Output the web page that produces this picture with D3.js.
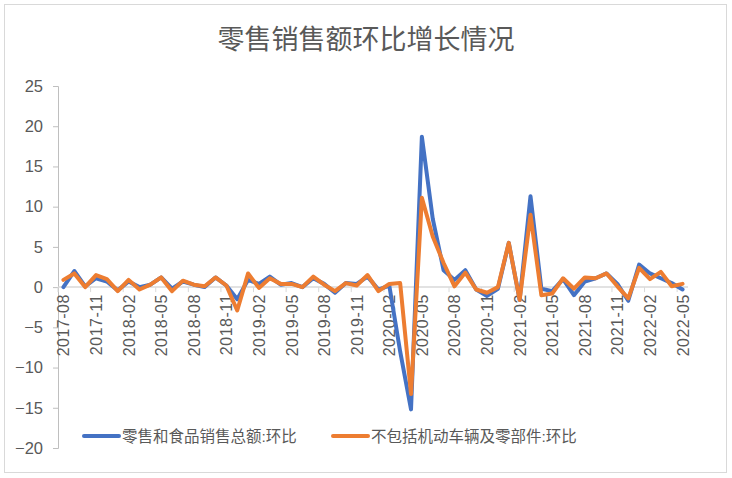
<!DOCTYPE html>
<html>
<head>
    <meta charset="utf-8">
    <title>零售销售额环比增长情况</title>
    <script src="https://d3js.org/d3.v7.min.js"></script>
    <style>
        body { margin: 0; background: #fff; }
        text { font-family: "Liberation Sans", "Noto Sans CJK SC", sans-serif; fill: #595959; }
        .line { fill: none; stroke-width: 4; stroke-linejoin: round; stroke-linecap: round; }
    </style>
</head>
<body>
    <div id="chart"></div>
    <script>
        // Months 2017-08 .. 2022-05
        const months = [];
        for (let y = 2017, m = 8; y < 2022 || (y === 2022 && m <= 5); m++) {
            if (m > 12) { m = 1; y++; }
            months.push(`${y}-${String(m).padStart(2, "0")}`);
        }

        const seriesNames = ["零售和食品销售总额:环比", "不包括机动车辆及零部件:环比"];
        const colors = ["#4472C4", "#ED7D31"];

        const totalMoM = [
            0.0, 2.0, 0.1, 1.1, 0.7, -0.4, 0.7, 0.0, 0.3, 1.2, -0.2, 0.7,
            0.3, 0.0, 1.2, 0.2, -1.5, 0.9, 0.4, 1.3, 0.3, 0.5, 0.0, 1.1,
            0.4, -0.7, 0.5, 0.4, 1.3, -0.3, 0.2, -8.0, -15.2, 18.7, 8.5, 2.1,
            0.9, 2.1, -0.3, -1.1, -0.2, 5.5, -1.6, 11.3, -0.2, -0.5, 1.0, -1.0,
            0.7, 1.1, 1.7, 0.4, -1.7, 2.8, 1.7, 1.1, 0.5, -0.3
        ];
        const exAutoMoM = [
            0.9, 1.7, 0.0, 1.5, 1.0, -0.5, 0.9, -0.3, 0.3, 1.2, -0.5, 0.8,
            0.3, 0.1, 1.2, 0.2, -2.9, 1.7, -0.1, 1.1, 0.4, 0.4, 0.0, 1.3,
            0.3, -0.5, 0.5, 0.2, 1.5, -0.5, 0.4, 0.5, -13.3, 11.1, 6.3, 3.0,
            0.1, 1.8, -0.3, -0.7, 0.0, 5.5, -1.6, 9.0, -1.0, -0.8, 1.1, -0.2,
            1.2, 1.1, 1.7, 0.1, -1.4, 2.4, 1.0, 1.9, 0.1, 0.4
        ];
        const yTicks = [-20, -15, -10, -5, 0, 5, 10, 15, 20, 25];

        const W = 732, H = 478;
        const plot = {left: 58, right: 688, top: 86, bottom: 448};

        const svg = d3.select("#chart").append("svg")
            .attr("width", W).attr("height", H);

        // chart border
        svg.append("rect")
            .attr("x", 4.5).attr("y", 4.5)
            .attr("width", 722).attr("height", 468)
            .attr("fill", "#fff").attr("stroke", "#d9d9d9");

        svg.append("text")
            .attr("x", 366).attr("y", 49)
            .attr("text-anchor", "middle")
            .style("font-size", "27px")
            .text("零售销售额环比增长情况");

        const x = d3.scaleBand().domain(months).range([plot.left, plot.right]);
        const y = d3.scaleLinear().domain([-20, 25]).range([plot.bottom, plot.top]);

        // value axis
        svg.append("g")
            .attr("transform", `translate(${plot.left},0)`)
            .call(d3.axisLeft(y).tickValues(yTicks).tickSize(5).tickPadding(10))
            .call(g => g.selectAll(".domain, line").attr("stroke", "#bfbfbf"))
            .call(g => g.selectAll("text").style("font-size", "16.5px").attr("fill", "#595959"));

        // category axis at zero
        const tickMonths = months.filter((d, i) => i % 3 === 0);
        const xAxis = svg.append("g").attr("transform", `translate(0,${y(0)})`);
        xAxis.append("line")
            .attr("x1", plot.left).attr("x2", plot.right)
            .attr("stroke", "#d9d9d9").attr("stroke-width", 1.5);
        xAxis.selectAll("line.tick")
            .data(tickMonths)
            .join("line")
            .attr("class", "tick")
            .attr("x1", d => x(d)).attr("x2", d => x(d))
            .attr("y1", 0).attr("y2", 5)
            .attr("stroke", "#d9d9d9");
        xAxis.selectAll("text")
            .data(tickMonths)
            .join("text")
            .attr("transform", d => `translate(${x(d) + x.bandwidth() / 2 + 6},7) rotate(-90)`)
            .attr("text-anchor", "end")
            .style("font-size", "16px")
            .style("letter-spacing", "0.5px")
            .text(d => d);

        // lines
        const line = d3.line()
            .x((d, i) => x(months[i]) + x.bandwidth() / 2)
            .y(d => y(d));
        [totalMoM, exAutoMoM].forEach((vals, k) => {
            svg.append("path")
                .datum(vals)
                .attr("class", "line")
                .attr("stroke", colors[k])
                .attr("d", line);
        });

        // legend
        const legendX = [84, 333];
        const legend = svg.append("g");
        seriesNames.forEach((name, k) => {
            legend.append("line")
                .attr("x1", legendX[k]).attr("x2", legendX[k] + 35)
                .attr("y1", 436).attr("y2", 436)
                .attr("stroke", colors[k]).attr("stroke-width", 4)
                .attr("stroke-linecap", "round");
            legend.append("text")
                .attr("x", legendX[k] + 38).attr("y", 442)
                .style("font-size", "15.5px")
                .text(name);
        });
    </script>
</body>
</html>
